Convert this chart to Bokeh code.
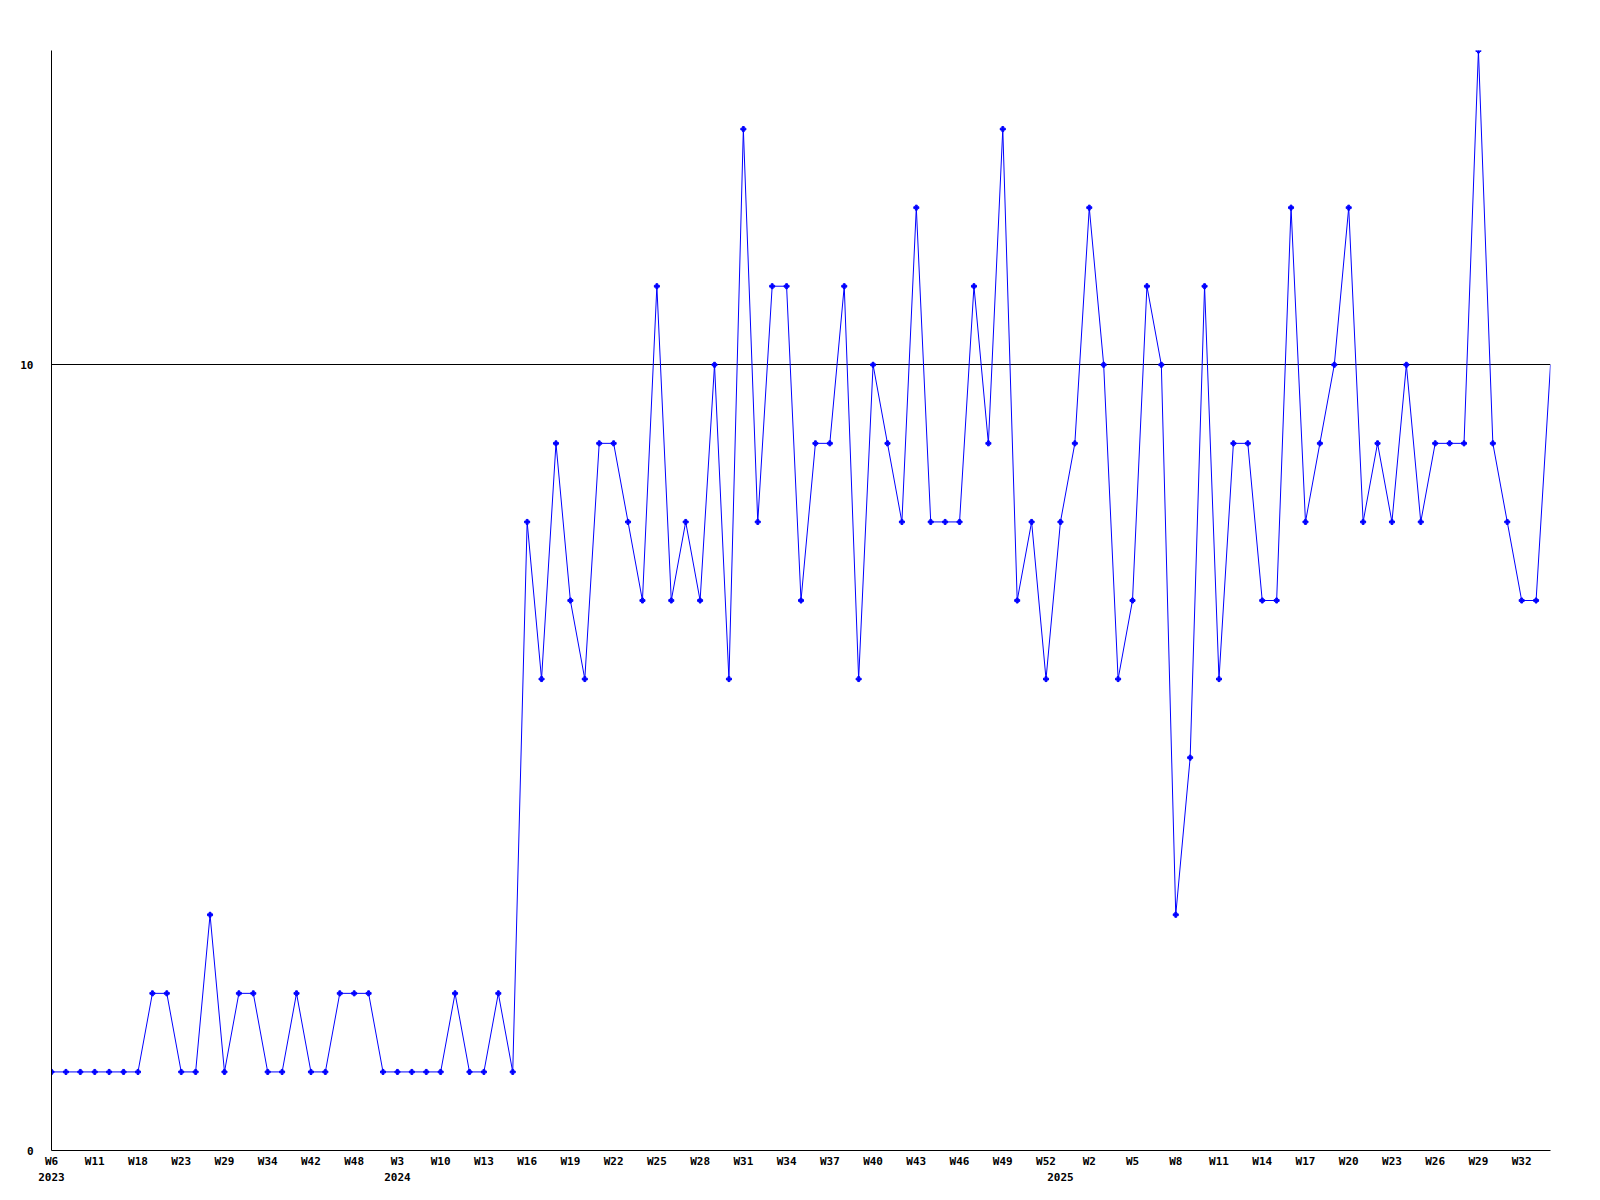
from bokeh.plotting import figure
from bokeh.models import Range1d, FixedTicker, LinearAxis
from bokeh.embed import file_html
from bokeh.resources import INLINE

values = [1, 1, 1, 1, 1, 1, 1, 2, 2, 1, 1, 3, 1, 2, 2, 1, 1, 2, 1, 1, 2, 2, 2,
          1, 1, 1, 1, 1, 2, 1, 1, 2, 1,
          8, 6, 9, 7, 6, 9, 9, 8, 7, 11, 7, 8, 7, 10, 6, 13, 8, 11, 11, 7,
          9, 9, 11, 6, 10, 9, 8, 12, 8, 8, 8, 11, 9, 13, 7, 8, 6, 8, 9, 12,
          10, 6, 7, 11, 10, 3, 5, 11, 6, 9, 9, 7, 7, 12, 8, 9, 10, 12, 8, 9,
          8, 10, 8, 9, 9, 9, 14, 9, 8, 7, 7, 10]
week_labels = ["W6", "W11", "W18", "W23", "W29", "W34", "W42", "W48", "W3", "W10",
               "W13", "W16", "W19", "W22", "W25", "W28", "W31", "W34", "W37", "W40",
               "W43", "W46", "W49", "W52", "W2", "W5", "W8", "W11", "W14", "W17",
               "W20", "W23", "W26", "W29", "W32"]
week_label_pos = list(range(0, 3 * len(week_labels), 3))
year_labels = ["2023", "2024", "2025"]
year_label_pos = [0, 24, 70]
y_ticks = [0, 10]

xs = list(range(len(values)))

FONT = "DejaVu Sans Mono"

p = figure(width=1592, height=1192, output_backend="svg", toolbar_location=None,
           x_range=Range1d(0, len(values) - 1), y_range=Range1d(0, 14),
           min_border_left=51, min_border_top=50, min_border_right=42, min_border_bottom=42)
p.outline_line_color = None
p.background_fill_color = "white"
p.border_fill_color = "white"

p.line(xs, values, line_color="#0000ff", line_width=1)
p.scatter(xs[:-1], values[:-1], marker="plus", size=5, fill_color="#0000ff", line_color="#0000ff")

# x axis: week labels
xa = p.xaxis[0]
xa.ticker = FixedTicker(ticks=week_label_pos)
xa.major_label_overrides = {pos: lab for pos, lab in zip(week_label_pos, week_labels)}
xa.axis_line_color = "black"
xa.major_tick_line_color = None
xa.minor_tick_line_color = None
xa.major_label_standoff = -2
xa.major_label_text_font = FONT
xa.major_label_text_font_style = "bold"
xa.major_label_text_font_size = "11px"
xa.major_label_text_color = "black"

# second row: years
ya2 = LinearAxis(ticker=FixedTicker(ticks=year_label_pos),
                 major_label_overrides={pos: lab for pos, lab in zip(year_label_pos, year_labels)})
ya2.axis_line_color = None
ya2.major_tick_line_color = None
ya2.minor_tick_line_color = None
ya2.major_label_standoff = -4
ya2.major_label_text_font = FONT
ya2.major_label_text_font_style = "bold"
ya2.major_label_text_font_size = "11px"
ya2.major_label_text_color = "black"
p.add_layout(ya2, "below")

# y axis
yax = p.yaxis[0]
yax.ticker = FixedTicker(ticks=y_ticks)
yax.axis_line_color = "black"
yax.major_tick_line_color = None
yax.minor_tick_line_color = None
yax.major_label_standoff = 12
yax.major_label_text_font = FONT
yax.major_label_text_font_style = "bold"
yax.major_label_text_font_size = "11px"
yax.major_label_text_color = "black"

p.xgrid.grid_line_color = None
p.ygrid.ticker = FixedTicker(ticks=y_ticks)
p.ygrid.grid_line_color = "black"
p.ygrid.grid_line_alpha = 1.0

open("out.html", "w").write(file_html(p, INLINE))
